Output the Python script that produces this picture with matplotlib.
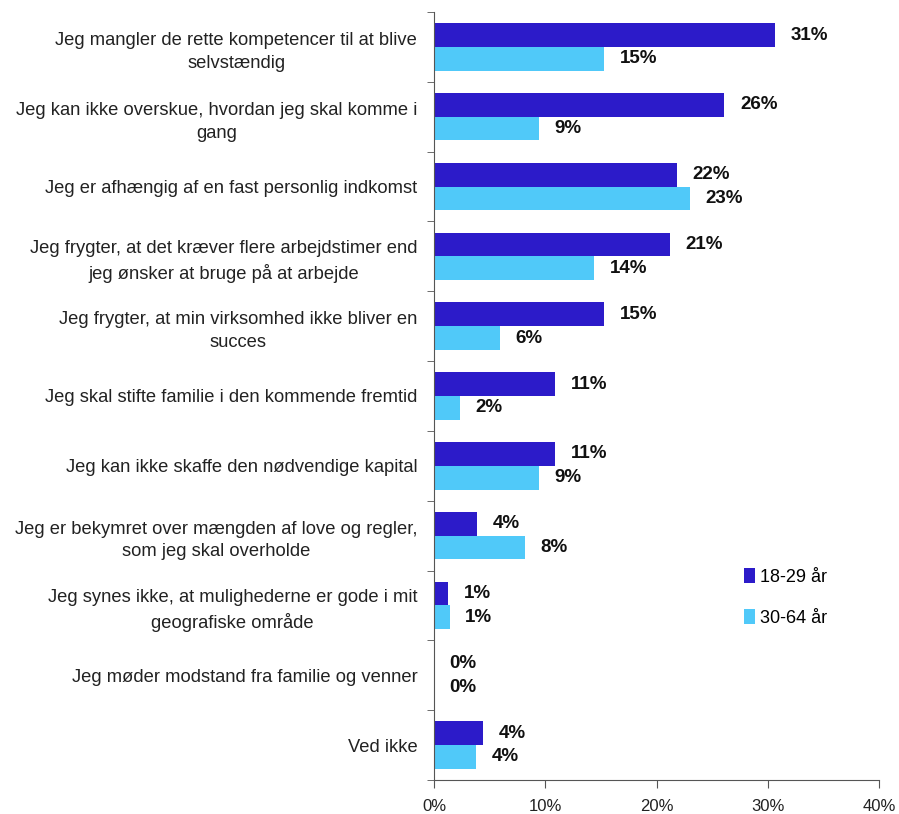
import matplotlib.pyplot as plt
import numpy as np

categories = [
    "Jeg mangler de rette kompetencer til at blive\nselvstændig",
    "Jeg kan ikke overskue, hvordan jeg skal komme i\ngang",
    "Jeg er afhængig af en fast personlig indkomst",
    "Jeg frygter, at det kræver flere arbejdstimer end\njeg ønsker at bruge på at arbejde",
    "Jeg frygter, at min virksomhed ikke bliver en\nsucces",
    "Jeg skal stifte familie i den kommende fremtid",
    "Jeg kan ikke skaffe den nødvendige kapital",
    "Jeg er bekymret over mængden af love og regler,\nsom jeg skal overholde",
    "Jeg synes ikke, at mulighederne er gode i mit\ngeografiske område",
    "Jeg møder modstand fra familie og venner",
    "Ved ikke",
]
young = [30.6, 26.1, 21.8, 21.2, 15.3, 10.9, 10.9, 3.9, 1.3, 0.0, 4.4]
older = [15.3, 9.4, 23.0, 14.4, 5.9, 2.3, 9.4, 8.2, 1.4, 0.0, 3.8]
series_names = ["18-29 år", "30-64 år"]

dark = "#2c1bc9"
light = "#50c9f9"

plt.rcParams["font.family"] = ["Liberation Sans", "DejaVu Sans"]

fig = plt.figure(figsize=(8.99, 8.14), dpi=100)
ax = fig.add_axes([0.4827, 0.0418, 0.4953, 0.9435])

y = np.arange(len(categories))
h = 0.34
b1 = ax.barh(y - h / 2, young, height=h, color=dark, label=series_names[0])
b2 = ax.barh(y + h / 2, older, height=h, color=light, label=series_names[1])

for bars, vals in [(b1, young), (b2, older)]:
    for bar, v in zip(bars, vals):
        ax.text(v + 1.4, bar.get_y() + bar.get_height() / 2, f"{v:.0f}%",
                va="center", ha="left", fontsize=13.5, fontweight="bold",
                color="#111111")

ax.set_ylim(len(categories) - 0.5, -0.5)
ax.set_xlim(0, 40)
ax.set_xticks([0, 10, 20, 30, 40])
ax.set_xticklabels(["0%", "10%", "20%", "30%", "40%"], fontsize=12, color="#222222")

ax.set_yticks(y)
ax.set_yticklabels(categories, fontsize=13.2, color="#222222")
for t in ax.get_yticklabels():
    t.set_multialignment("center")
    t.set_linespacing(1.45)
ax.tick_params(axis="y", which="major", length=0, pad=12)
ax.set_yticks(np.arange(len(categories) + 1) - 0.5, minor=True)
ax.tick_params(axis="y", which="minor", length=5, color="#555555")
ax.tick_params(axis="x", length=6, color="#555555", pad=8)

for s in ["top", "right"]:
    ax.spines[s].set_visible(False)
for s in ["left", "bottom"]:
    ax.spines[s].set_color("#555555")

ax.legend(loc="upper left", bbox_to_anchor=(0.66, 0.297), frameon=False,
          fontsize=13, handlelength=0.6, handleheight=0.9, handletextpad=0.3,
          labelspacing=1.3)

fig.savefig("out.png", dpi=100)
